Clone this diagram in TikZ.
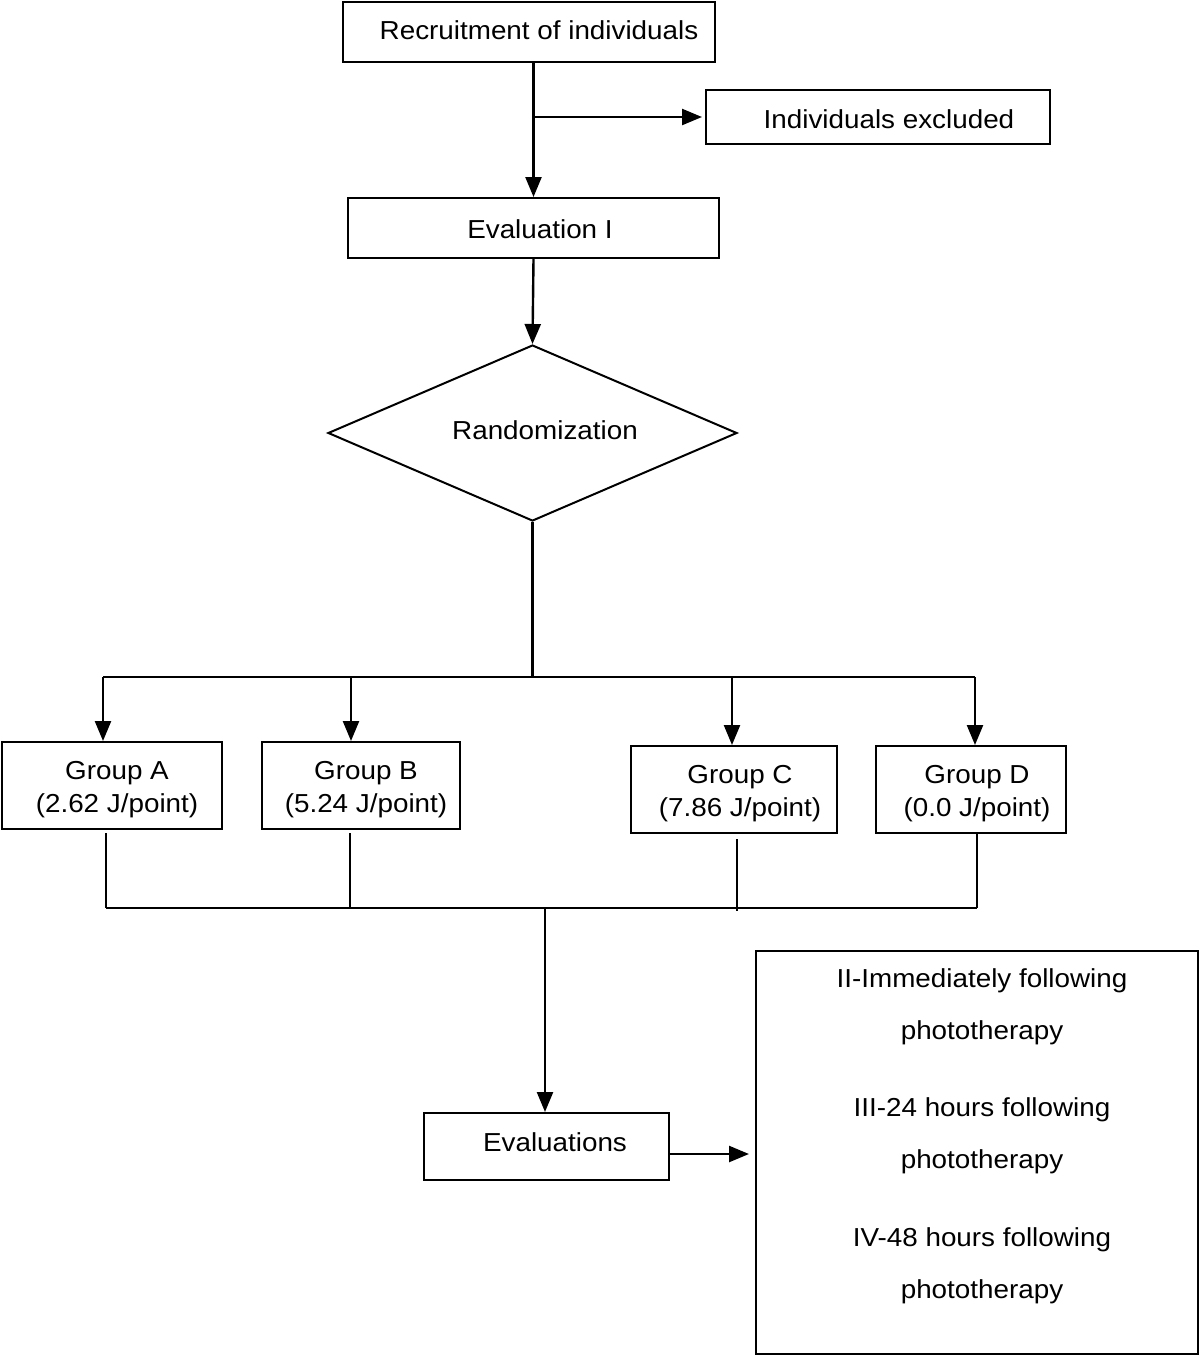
\documentclass[tikz,border=0pt]{standalone}
\usepackage{fontspec}
\setmainfont{Liberation Sans}[FakeStretch=1.07]
\usetikzlibrary{arrows.meta,shapes.geometric}
\begin{document}
\begin{tikzpicture}[x=0.5pt,y=-0.5pt,
  every node/.style={font=\fontsize{13}{16.5}\selectfont},
  box/.style={draw,line width=1pt,inner sep=0pt},
  conn/.style={line width=1.2pt},
  thin/.style={line width=0.8pt},
  arr/.style={line width=1.2pt,-{Triangle[length=10pt,width=8pt]}},
  txt/.style={inner sep=0pt,align=center}]
\useasboundingbox (0,0) rectangle (1200,1356);
% boxes
\node[box,minimum width=186pt,minimum height=30pt] (rec) at (529,32) {};
\node[box,minimum width=172pt,minimum height=27pt] (excl) at (878,117) {};
\node[box,minimum width=185.5pt,minimum height=30pt] (ev1) at (533.5,228) {};
\node[draw,line width=1pt,diamond,inner sep=0pt,minimum width=204.5pt,minimum height=88pt] (rand) at (532.5,433) {};
\node[box,minimum width=110pt,minimum height=43.5pt] (A) at (112,785.5) {};
\node[box,minimum width=99pt,minimum height=43.5pt] (B) at (361,785.5) {};
\node[box,minimum width=103pt,minimum height=43.5pt] (C) at (734,789.5) {};
\node[box,minimum width=95pt,minimum height=43.5pt] (D) at (971,789.5) {};
\node[box,minimum width=122.5pt,minimum height=33.5pt] (ev) at (546.5,1146.5) {};
\node[box,minimum width=221pt,minimum height=201.5pt] (big) at (977,1152.5) {};
% texts
\node[txt] (rect) at (539,30) {Recruitment of individuals};
\node[txt] (exclt) at (889,119) {Individuals excluded};
\node[txt] (ev1t) at (540,229) {Evaluation I};
\node[txt] (randt) at (545,430) {Randomization};
\node[txt] (At) at (117,790) {Group A\\(2.62 J/point)};
\node[txt] (Bt) at (366,790) {Group B\\(5.24 J/point)};
\node[txt] (Ct) at (740,794) {Group C\\(7.86 J/point)};
\node[txt] (Dt) at (977,794) {Group D\\(0.0 J/point)};
\node[txt] (evt) at (555,1142) {Evaluations};
\node[txt] (t2) at (982,1007) {II-Immediately following\\[9.5pt]phototherapy};
\node[txt] (t3) at (982,1136) {III-24 hours following\\[9.5pt]phototherapy};
\node[txt] (t4) at (982,1266) {IV-48 hours following\\[9.5pt]phototherapy};
% top connectors
\coordinate (br) at (ev1.north |- excl.west);
\draw[conn] (ev1.north |- rec.south) -- (br);
\draw[arr] (br) -- (ev1.north);
\draw[arr] (br) -- ([xshift=-1.5pt]excl.west);
\draw[arr] (ev1.south) -- (rand.north);
% split to groups
\coordinate (split) at (532.5,677);
\coordinate (sA) at (103,677);
\coordinate (sD) at (975,677);
\draw[conn] (rand.south) -- (split);
\draw[conn] (sA) -- (sD);
\draw[arr] (sA) -- (sA |- A.north);
\draw[arr] (351,677) -- ([xshift=-5pt]B.north);
\draw[arr] (732,677) -- ([xshift=-1pt]C.north);
\draw[arr] (sD) -- (sD |- D.north);
% merge from groups
\coordinate (mA) at (106,908);
\coordinate (mD) at (977,908);
\coordinate (mid) at (545,908);
\draw[thin] ([xshift=-3pt,yshift=-1.5pt]A.south) -- (mA);
\draw[thin] ([xshift=-5.5pt,yshift=-1.5pt]B.south) -- (350,908);
\draw[thin] ([xshift=1.5pt,yshift=-2.5pt]C.south) -- (737,911);
\draw[thin] ([xshift=3pt]D.south) -- (mD);
\draw[thin] (mA) -- (mD);
\draw[arr] (mid) -- (mid |- ev.north);
\coordinate (evo) at ([yshift=-3.75pt]ev.east);
\draw[arr] (evo) -- ([xshift=-3pt]evo -| big.west);
\end{tikzpicture}
\end{document}
